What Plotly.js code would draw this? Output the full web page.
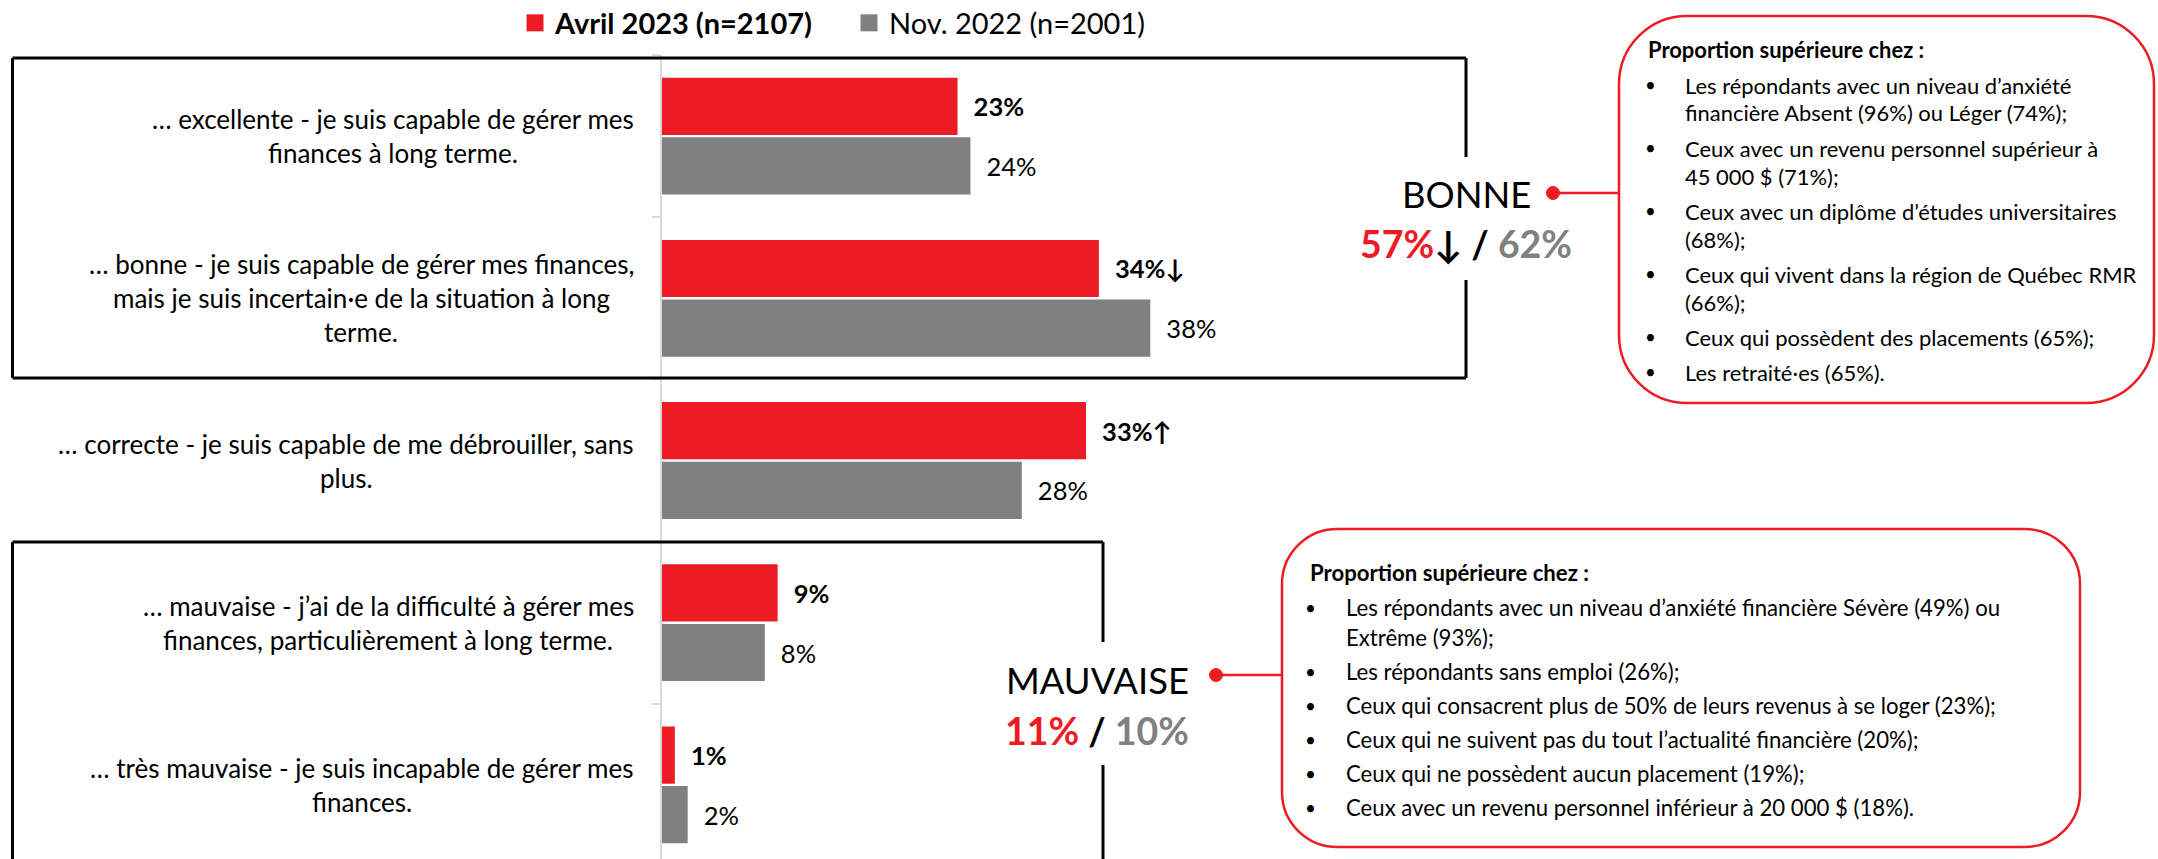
<!DOCTYPE html>
<html><head><meta charset="utf-8">
<script src="https://cdn.plot.ly/plotly-3.0.1.min.js"></script>
<style>html,body{margin:0;padding:0;background:#fff;overflow:hidden}</style>
</head><body>
<div id="chart" style="width:2158px;height:859px"></div>
<script>
// ---------- DATA ----------
const categories = [
  '… excellente - je suis capable de gérer mes<br>finances à long terme.',
  '… bonne - je suis capable de gérer mes finances,<br>mais je suis incertain·e de la situation à long<br>terme.',
  '… correcte - je suis capable de me débrouiller, sans<br>plus.',
  '… mauvaise - j’ai de la difficulté à gérer mes<br>finances, particulièrement à long terme.',
  '… très mauvaise - je suis incapable de gérer mes<br>finances.'
];
const seriesNames = ['Avril 2023 (n=2107)', 'Nov. 2022 (n=2001)'];
const avril2023 = [23, 34, 33, 9, 1];
const nov2022 = [24, 38, 28, 8, 2];
const changeMarks = ['', '↓', '↑', '', ''];
const groupNames = ['BONNE', 'MAUVAISE'];
const groupAvril = [57, 11];
const groupNov = [62, 10];
const groupMarks = ['↓', ''];
const calloutTitle = 'Proportion supérieure chez :';
const callout1Items = [
  ['Les répondants avec un niveau d’anxiété', 'financière Absent (96%) ou Léger (74%);'],
  ['Ceux avec un revenu personnel supérieur à', '45 000 $ (71%);'],
  ['Ceux avec un diplôme d’études universitaires', '(68%);'],
  ['Ceux qui vivent dans la région de Québec RMR', '(66%);'],
  ['Ceux qui possèdent des placements (65%);'],
  ['Les retraité·es (65%).']
];
const callout2Items = [
  ['Les répondants avec un niveau d’anxiété financière Sévère (49%) ou', 'Extrême (93%);'],
  ['Les répondants sans emploi (26%);'],
  ['Ceux qui consacrent plus de 50% de leurs revenus à se loger (23%);'],
  ['Ceux qui ne suivent pas du tout l’actualité financière (20%);'],
  ['Ceux qui ne possèdent aucun placement (19%);'],
  ['Ceux avec un revenu personnel inférieur à 20 000 $ (18%).']
];

// ---------- LAYOUT HELPERS ----------
const W = 2158, H = 859, L = 662, T = 55;
const PW = W - L, PH = H - T;
const pxPerUnit = 12.85, catStep = 162.2;
const px = x => (x - L) / PW;
const py = y => 1 - (y - T) / PH;
const RED = '#ED1C24', GRAY = '#808080', FONT = 'Lato';

const ctx = document.createElement('canvas').getContext('2d');
function textW(t, size, weight) { ctx.font = (weight || 'normal') + ' ' + size + 'px ' + FONT; return ctx.measureText(t).width; }
function fit(t, target, weight) { return 100 * target / textW(t, 100, weight); }

const catSize = (fit('… bonne - je suis capable de gérer mes finances,', 547) + fit('… excellente - je suis capable de gérer mes', 482)) / 2;
const barSize = fit('24%', 50);
const legendSize = fit('Avril 2023 (n=2107)', 257, 'bold');
const groupLabelSize = fit('MAUVAISE', 183);
const groupValueSize = fit('11% / 10%', 184, 'bold');
const c1Size = fit('Ceux qui vivent dans la région de Québec RMR', 452);
const c2Size = fit('Ceux qui consacrent plus de 50% de leurs revenus à se loger (23%);', 651);

const NB = '\u00a0\u00a0';

const traces = [
  {
    type: 'bar', orientation: 'h', name: '<b>' + seriesNames[0] + '</b>',
    y: categories, x: avril2023,
    marker: { color: RED },
    text: avril2023.map((v, i) => NB + '<b>' + v + '%' + changeMarks[i] + '</b>'),
    textposition: 'outside', cliponaxis: false, constraintext: 'none',
    textfont: { size: barSize, color: '#000', family: FONT }
  },
  {
    type: 'bar', orientation: 'h', name: seriesNames[1],
    y: categories, x: nov2022,
    marker: { color: GRAY },
    text: nov2022.map(v => NB + v + '%'),
    textposition: 'outside', cliponaxis: false, constraintext: 'none',
    textfont: { size: barSize, color: '#000', family: FONT }
  }
];

// ---------- SHAPES ----------
const shapes = [];
function seg(x0, y0, x1, y1, color, w) {
  shapes.push({ type: 'line', xref: 'paper', yref: 'paper', x0: px(x0), y0: py(y0), x1: px(x1), y1: py(y1), line: { color: color, width: w }, layer: 'above' });
}
function dot(cx, cy, r) {
  shapes.push({ type: 'circle', xref: 'paper', yref: 'paper', x0: px(cx - r), x1: px(cx + r), y0: py(cy + r), y1: py(cy - r), fillcolor: RED, line: { color: RED, width: 1 }, layer: 'above' });
}
function roundRect(x0, y0, x1, y1, r) {
  const k = 0.5523 * r;
  const P = (x, y) => px(x) + ',' + py(y);
  const d = 'M' + P(x0 + r, y0) + ' L' + P(x1 - r, y0) +
    ' C' + P(x1 - r + k, y0) + ' ' + P(x1, y0 + r - k) + ' ' + P(x1, y0 + r) +
    ' L' + P(x1, y1 - r) +
    ' C' + P(x1, y1 - r + k) + ' ' + P(x1 - r + k, y1) + ' ' + P(x1 - r, y1) +
    ' L' + P(x0 + r, y1) +
    ' C' + P(x0 + r - k, y1) + ' ' + P(x0, y1 - r + k) + ' ' + P(x0, y1 - r) +
    ' L' + P(x0, y0 + r) +
    ' C' + P(x0, y0 + r - k) + ' ' + P(x0 + r - k, y0) + ' ' + P(x0 + r, y0) + ' Z';
  shapes.push({ type: 'path', xref: 'paper', yref: 'paper', path: d, line: { color: RED, width: 2.5 }, fillcolor: 'rgba(0,0,0,0)', layer: 'above' });
}
// black group boxes
const BK = '#000';
seg(12.5, 58, 1466, 58, BK, 3);
seg(12.5, 58, 12.5, 378, BK, 3);
seg(12.5, 378, 1466, 378, BK, 3);
seg(1466, 58, 1466, 157, BK, 3);
seg(1466, 280, 1466, 378, BK, 3);
seg(12.5, 542, 1103, 542, BK, 3);
seg(12.5, 542, 12.5, 862, BK, 3);
seg(1103, 542, 1103, 642, BK, 3);
seg(1103, 765, 1103, 862, BK, 3);
// connectors & callouts
seg(1553, 193, 1619, 193, RED, 2.5);
dot(1553, 193, 6.5);
roundRect(1619, 16, 2154, 403, 68);
seg(1216, 675, 1282, 675, RED, 2.5);
dot(1216, 675, 6.5);
roundRect(1282, 529, 2080, 847, 55);

// ---------- ANNOTATIONS ----------
const annotations = [];
// category labels (centered lines, right edge at x=634)
categories.forEach((c, i) => {
  const lines = c.split('<br>');
  const maxW = Math.max(...lines.map(l => textW(l, catSize)));
  const cx = 634 - maxW / 2;
  lines.forEach((l, j) => {
    annotations.push({
      xref: 'paper', yref: 'y', x: px(cx), y: i, xanchor: 'center', yanchor: 'middle',
      yshift: ((lines.length - 1) / 2 - j) * 34, text: l, showarrow: false,
      font: { family: FONT, size: catSize, color: '#000' }
    });
  });
});
// group summaries
const groupPos = [{ x: 1466, y1: 194, y2: 244 }, { x: 1097, y1: 680, y2: 730 }];
groupNames.forEach((g, i) => {
  annotations.push({ xref: 'paper', yref: 'paper', x: px(groupPos[i].x), y: py(groupPos[i].y1), xanchor: 'center', yanchor: 'middle', text: g, showarrow: false, font: { family: FONT, size: groupLabelSize, color: '#000' } });
  annotations.push({
    xref: 'paper', yref: 'paper', x: px(groupPos[i].x), y: py(groupPos[i].y2), xanchor: 'center', yanchor: 'middle', showarrow: false,
    text: '<b><span style="color:' + RED + '">' + groupAvril[i] + '%</span>' + groupMarks[i] + ' / <span style="color:' + GRAY + '">' + groupNov[i] + '%</span></b>',
    font: { family: FONT, size: groupValueSize, color: '#000' }
  });
});
// callout texts
function callout(items, titleX, titleY, bulletX, textX, startY, lineStep, itemStep, size) {
  annotations.push({ xref: 'paper', yref: 'paper', x: px(titleX), y: py(titleY), xanchor: 'left', yanchor: 'middle', showarrow: false, text: '<b>' + calloutTitle + '</b>', font: { family: FONT, size: size, color: '#000' } });
  let y = startY;
  items.forEach(item => {
    annotations.push({ xref: 'paper', yref: 'paper', x: px(bulletX), y: py(y), xanchor: 'center', yanchor: 'middle', showarrow: false, text: '•', font: { family: FONT, size: size * 0.85, color: '#000' } });
    item.forEach((line, j) => {
      if (j > 0) y += lineStep;
      annotations.push({ xref: 'paper', yref: 'paper', x: px(textX), y: py(y), xanchor: 'left', yanchor: 'middle', showarrow: false, text: line, font: { family: FONT, size: size, color: '#000' } });
    });
    y += itemStep;
  });
}
callout(callout1Items, 1646, 50, 1650, 1683, 85, 28, 35, c1Size);
callout(callout2Items, 1308, 572, 1310, 1344, 607, 30, 34, c2Size);

const layout = {
  width: W, height: H,
  margin: { l: L, r: 0, t: T, b: 0, pad: 0, autoexpand: false },
  paper_bgcolor: '#ffffff', plot_bgcolor: 'rgba(0,0,0,0)',
  font: { family: FONT, color: '#000' },
  barmode: 'group', bargap: 0.265, bargroupgap: 0.04,
  showlegend: true,
  xaxis: { range: [0, PW / pxPerUnit], visible: false, fixedrange: true },
  yaxis: {
    type: 'category', range: [-0.5 + PH / catStep, -0.5],
    showline: true, linecolor: '#d9d9d9', linewidth: 2,
    ticks: 'outside', ticklen: 8, tickwidth: 2, tickcolor: '#d9d9d9', tickson: 'boundaries',
    showticklabels: false, showgrid: false, zeroline: false, automargin: false, fixedrange: true
  },
  legend: {
    orientation: 'h', x: px(515), xanchor: 'left', y: py(23), yanchor: 'middle',
    entrywidth: 289, entrywidthmode: 'pixels',
    font: { family: FONT, size: legendSize, color: '#000' }, bgcolor: 'rgba(0,0,0,0)', traceorder: 'normal'
  },
  shapes: shapes,
  annotations: annotations
};

Plotly.newPlot('chart', traces, layout, { staticPlot: true, displayModeBar: false }).then(gd => {
  // enlarge legend swatches: draw larger same-colour squares behind Plotly's legend symbols
  try {
    const host = gd.getBoundingClientRect();
    const syms = gd.querySelectorAll('.legend .traces .legendpoints path');
    const cols = [RED, GRAY];
    const extra = [];
    syms.forEach((p, i) => {
      const b = p.getBoundingClientRect();
      const cx = b.left - host.left + b.width / 2, cy = b.top - host.top + b.height / 2, s = 8.5;
      extra.push({ type: 'rect', xref: 'paper', yref: 'paper', x0: px(cx - s), x1: px(cx + s), y0: py(cy + s), y1: py(cy - s), fillcolor: cols[i % 2], line: { width: 0 }, layer: 'above' });
    });
    if (extra.length) Plotly.relayout(gd, { shapes: shapes.concat(extra) });
  } catch (e) {}
});
</script>
</body></html>
